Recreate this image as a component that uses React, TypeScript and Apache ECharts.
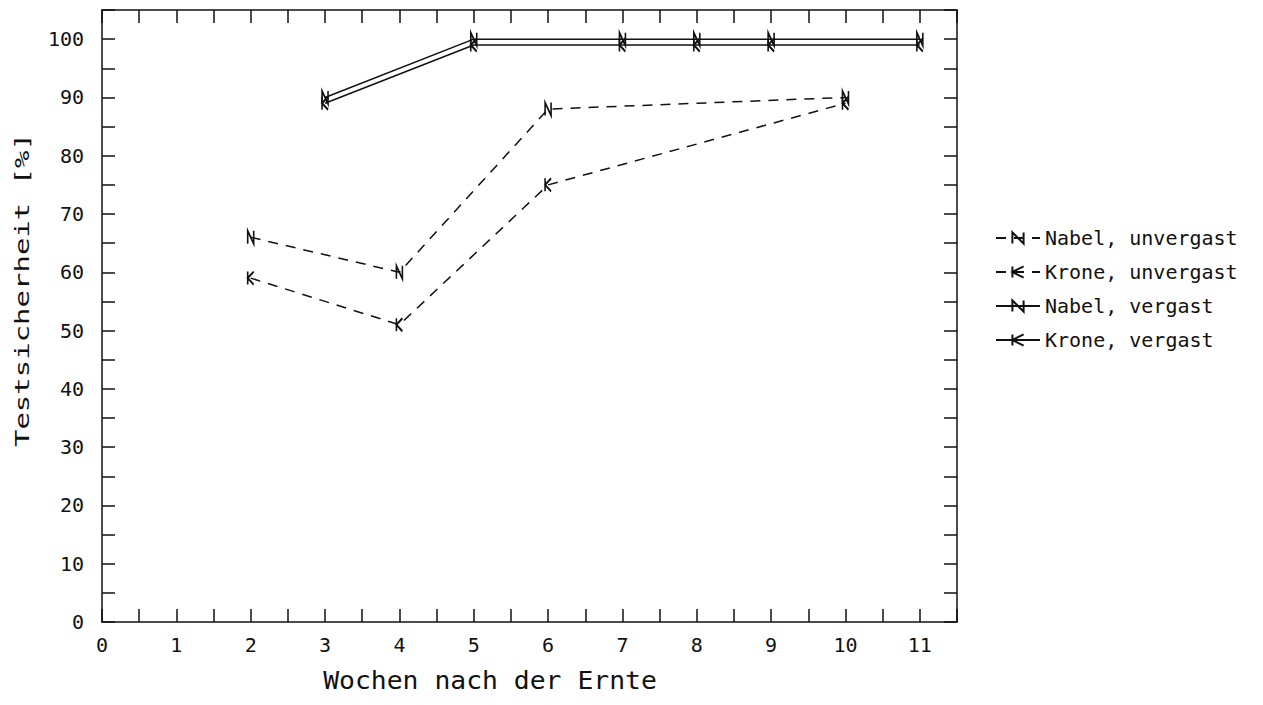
import React, { useEffect, useRef } from "react";
import * as echarts from "echarts";

const seriesNames = ["Nabel, unvergast", "Krone, unvergast", "Nabel, vergast", "Krone, vergast"];
const nabelUnvergast: [number, number][] = [[2, 66], [4, 60], [6, 88], [10, 90]];
const kroneUnvergast: [number, number][] = [[2, 59], [4, 51], [6, 75], [10, 89]];
const nabelVergast: [number, number][] = [[3, 90], [5, 100], [7, 100], [8, 100], [9, 100], [11, 100]];
const kroneVergast: [number, number][] = [[3, 89], [5, 99], [7, 99], [8, 99], [9, 99], [11, 99]];
const xTitle = "Wochen nach der Ernte";
const yTitle = "Testsicherheit [%]";

const N_SYMBOL = "path://M0,12 L0,0 L8,12 L8,0";
const K_SYMBOL = "path://M0,0 L0,12 M8,0 L0,6 L8,12";
const FONT = "DejaVu Sans Mono";

export default function App() {
  const ref = useRef<HTMLDivElement>(null);
  useEffect(() => {
    const chart = echarts.init(ref.current!, undefined, { renderer: "svg" });
    const mk = (name: string, data: [number, number][], sym: string, dashed: boolean) => ({
      name,
      type: "line",
      data,
      symbol: sym,
      symbolSize: [9, 13],
      symbolKeepAspect: true,
      showSymbol: true,
      lineStyle: { color: "#111", width: 1.5, type: dashed ? [10, 8] : "solid" },
      itemStyle: { color: "none", borderColor: "#111", borderWidth: 1.9 },
      emphasis: { disabled: true },
    });
    const axisLine = { onZero: false, lineStyle: { color: "#111", width: 1.5 } };
    const axisTick = { inside: true, length: 13, lineStyle: { color: "#111", width: 1.5 } };
    const xCommon = {
      type: "value",
      min: 0,
      max: 11.5,
      interval: 0.5,
      splitLine: { show: false },
      axisLine,
      axisTick,
    };
    const yCommon = {
      type: "value",
      min: 0,
      max: 105,
      interval: 5,
      splitLine: { show: false },
      axisLine,
      axisTick,
    };
    chart.setOption({
      animation: false,
      backgroundColor: "#fff",
      grid: { left: 102, top: 10, right: 306, bottom: 83, containLabel: false },
      xAxis: [
        {
          ...xCommon,
          position: "bottom",
          axisLabel: {
            margin: 13,
            color: "#111",
            fontFamily: FONT,
            fontSize: 20,
            formatter: (v: number) => (Number.isInteger(v) && v <= 11 ? String(v) : ""),
          },
        },
        { ...xCommon, position: "top", axisLabel: { show: false } },
      ],
      yAxis: [
        {
          ...yCommon,
          position: "left",
          axisLabel: {
            margin: 18,
            color: "#111",
            fontFamily: FONT,
            fontSize: 20,
            formatter: (v: number) => (v % 10 === 0 && v <= 100 ? String(v) : ""),
          },
        },
        { ...yCommon, position: "right", axisLabel: { show: false } },
      ],
      legend: {
        orient: "vertical",
        left: 990,
        top: 223,
        itemWidth: 44,
        itemHeight: 14,
        itemGap: 14,
        data: seriesNames,
        textStyle: { fontFamily: FONT, fontSize: 20, color: "#111" },
        selectedMode: false,
      },
      graphic: [
        {
          type: "text",
          x: 490,
          y: 693,
          scaleX: 1.1,
          style: {
            text: xTitle,
            font: `24px "${FONT}"`,
            fill: "#111",
            textAlign: "center",
            textVerticalAlign: "bottom",
          },
        },
        {
          type: "text",
          x: 22,
          y: 290,
          rotation: Math.PI / 2,
          scaleX: 1.45,
          style: {
            text: yTitle,
            font: `20px "${FONT}"`,
            fill: "#111",
            textAlign: "center",
            textVerticalAlign: "middle",
          },
        },
      ],
      series: [
        mk(seriesNames[0], nabelUnvergast, N_SYMBOL, true),
        mk(seriesNames[1], kroneUnvergast, K_SYMBOL, true),
        mk(seriesNames[2], nabelVergast, N_SYMBOL, false),
        mk(seriesNames[3], kroneVergast, K_SYMBOL, false),
      ],
    });
    return () => chart.dispose();
  }, []);
  return (
    <div
      ref={ref}
      style={{ position: "fixed", left: 0, top: 0, width: 1263, height: 705, background: "#fff" }}
    />
  );
}
